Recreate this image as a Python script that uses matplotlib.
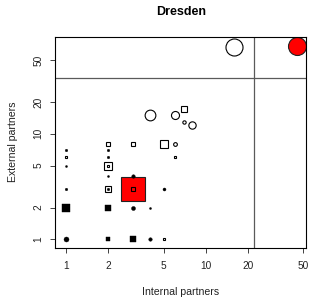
import matplotlib
matplotlib.use('Agg')
import matplotlib.pyplot as plt

plt.rcParams['font.family'] = ['Liberation Sans', 'DejaVu Sans']

# partners per organisation (internal, external), marker kind, fill and weight
internal = [16, 45, 4, 6, 7, 7, 8, 2, 3, 5, 6, 6, 1, 1, 1, 2, 2, 2, 2, 2,
            1, 2, 2, 3, 3, 3, 5, 1, 2, 3, 4, 1, 2, 3, 3, 4, 5]
external = [67, 68, 15, 15, 17, 13, 12, 8, 8, 8, 8, 6, 7, 6, 5, 7, 6, 5, 5, 4,
            3, 3, 3, 3, 3, 4, 3, 2, 2, 2, 2, 1, 1, 1, 1, 1, 1]
kind = ['o', 'o', 'o', 'o', 's', 'o', 'o', 's', 's', 's', 'o', 's', 'o', 's',
        'o', 'o', 'o', 's', 's', 'o', 'o', 's', 'o', 's', 's', 'o', 'o', 's',
        's', 'o', 'o', 'o', 's', 's', 's', 'o', 's']
fill = ['open', 'red', 'open', 'open', 'open', 'open', 'open', 'open', 'open',
        'open', 'open', 'open', 'full', 'open', 'full', 'full', 'full', 'open',
        'open', 'full', 'full', 'open', 'full', 'red', 'open', 'full', 'full',
        'full', 'full', 'full', 'full', 'full', 'full', 'full', 'open', 'full',
        'open']
weight = [18, 18, 11.7, 9, 6.7, 4.3, 8.3, 5, 4.5, 8.3, 4.7, 3.7, 2.5, 3.5, 2,
          2.5, 2.5, 9, 3.5, 2, 2.5, 7, 2.5, 24, 4, 3.5, 3, 8.5, 6, 4, 2, 5,
          3.7, 6, 3, 3.5, 3.5]

x_cut = 22
y_cut = 34
ticks = [1, 2, 5, 10, 20, 50]

W, H = 313, 298
fig = plt.figure(figsize=(W / 100, H / 100), dpi=100)
ax = fig.add_axes([55 / W, 1 - 248 / H, 250.7 / W, 211.3 / H])

ax.axvline(x_cut, color='#5a5a5a', lw=0.9, zorder=1)
ax.axhline(y_cut, color='#5a5a5a', lw=0.9, zorder=1)

for i in range(len(internal)):
    ms = weight[i] * 0.72
    if fill[i] == 'red':
        ax.plot(internal[i], external[i], marker=kind[i], ms=ms, mfc='red',
                mec='#222222', mew=0.8, ls='none', zorder=2)
    elif fill[i] == 'full':
        ax.plot(internal[i], external[i], marker=kind[i], ms=ms, mfc='black',
                mec='black', mew=0.3, ls='none', zorder=3)
    else:
        ax.plot(internal[i], external[i], marker=kind[i], ms=max(ms - 0.7, 1),
                mfc='none', mec='black', mew=0.8, ls='none', zorder=3)

ax.set_xscale('log')
ax.set_yscale('log')
ax.set_xlim(0.834, 52)
ax.set_ylim(0.83, 83)
ax.set_xticks(ticks)
ax.set_xticklabels([str(t) for t in ticks])
ax.set_yticks(ticks)
ax.set_yticklabels([str(t) for t in ticks], rotation=90, va='center')
ax.minorticks_off()
ax.tick_params(axis='both', length=3.6, width=0.6, labelsize=7.3,
               colors='#222222', direction='out')
ax.tick_params(axis='x', pad=6)
ax.tick_params(axis='y', pad=4.5)
for s in ax.spines.values():
    s.set_linewidth(0.8)

fig.text(181 / W, 1 - 12 / H, 'Dresden', ha='center', va='center',
         fontsize=9, fontweight='bold')
fig.text(181 / W, 1 - 292 / H, 'Internal partners', ha='center', va='center',
         fontsize=7.6, color='#222222')
fig.text(13 / W, 1 - 142 / H, 'External partners', ha='center', va='center',
         fontsize=7.6, rotation=90, color='#222222')

fig.savefig('out.png', dpi=100)
